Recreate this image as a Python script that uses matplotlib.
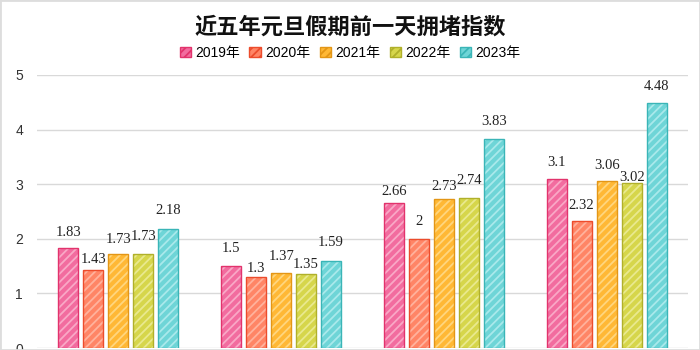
import matplotlib
matplotlib.use("Agg")
import matplotlib.pyplot as plt
from matplotlib.patches import Rectangle, Patch
import numpy as np

# Congestion index on the day before the New Year holiday, five years
years = ["2019年", "2020年", "2021年", "2022年", "2023年"]
groups = ["A", "B", "C", "D"]
v2019 = [1.83, 1.5, 2.66, 3.1]
v2020 = [1.43, 1.3, 2.0, 2.32]
v2021 = [1.73, 1.37, 2.73, 3.06]
v2022 = [1.73, 1.35, 2.74, 3.02]
v2023 = [2.18, 1.59, 3.83, 4.48]
series = [v2019, v2020, v2021, v2022, v2023]
value_labels = [
    ["1.83", "1.5", "2.66", "3.1"],
    ["1.43", "1.3", "2", "2.32"],
    ["1.73", "1.37", "2.73", "3.06"],
    ["1.73", "1.35", "2.74", "3.02"],
    ["2.18", "1.59", "3.83", "4.48"],
]
yticks = [0, 1, 2, 3, 4, 5]

# label lift above each bar top (pixels), staggered where neighbours collide
label_lift = [
    [16, 18, 11, 16],
    [10, 9, 17, 16],
    [14, 17, 12, 15],
    [17, 10, 18, 6],
    [18, 19, 17, 17],
]

fills = ["#f26c9f", "#ff8566", "#ffb835", "#d6d64b", "#6ed5d7"]
edges = ["#e2336c", "#ec4c2c", "#e39616", "#b0b02a", "#3ab5b7"]
hatch_cols = ["#f9a8c6", "#ffb29d", "#ffd67e", "#e9e98e", "#a9e9eb"]

plt.rcParams["hatch.linewidth"] = 1.3
sans = ["Liberation Sans", "Noto Sans CJK SC"]

fig = plt.figure(figsize=(7, 3.5), dpi=100)
ax = fig.add_axes([37 / 700, 1 - 348 / 350, 651 / 700, 273 / 350])

x = np.arange(len(groups))
width = 20 / 163
pitch = 25 / 163
offsets = (np.arange(len(series)) - 2) * pitch

for i, vals in enumerate(series):
    xpos = x + offsets[i]
    with plt.rc_context({"hatch.color": hatch_cols[i]}):
        ax.bar(xpos, vals, width=width, color=fills[i], hatch="////",
               edgecolor=hatch_cols[i], linewidth=0, zorder=2)
    ax.bar(xpos, vals, width=width, facecolor="none",
           edgecolor=edges[i], linewidth=1.0, zorder=3)
    for xx, v, lab, lift in zip(xpos, vals, value_labels[i], label_lift[i]):
        ax.annotate(lab, (xx, v), xytext=(0, lift * 0.72),
                    textcoords="offset points", ha="center", va="center",
                    fontsize=10.5, family="Liberation Serif",
                    color="#222222", zorder=4)

ax.set_xlim(-0.5, len(groups) - 0.5)
ax.set_ylim(0, 5)
ax.set_yticks(yticks)
ax.set_yticklabels([str(t) for t in yticks], family=sans, fontsize=10,
                   color="#333333")
ax.tick_params(axis="y", length=0, pad=10)
ax.set_xticks([])
ax.grid(axis="y", color="#d9d9d9", linewidth=1.0, zorder=0)
for s in ax.spines.values():
    s.set_visible(False)

fig.text(0.5, 1 - 27 / 350, "近五年元旦假期前一天拥堵指数", ha="center",
         va="center", fontsize=16, fontweight="bold",
         family=["Noto Sans CJK SC", "DejaVu Sans"], color="#111111")

handles = []
for i in range(len(series)):
    handles.append(Patch(facecolor=fills[i], edgecolor=edges[i],
                         hatch="////", linewidth=1.0))
leg = fig.legend(handles, years, loc="center", bbox_to_anchor=(0.5, 1 - 53 / 350),
                 ncol=5, frameon=False, handlelength=0.8, handleheight=0.8,
                 handletextpad=0.3, columnspacing=0.7,
                 prop={"family": sans, "size": 10})

fig.patches.append(Rectangle((0, 0), 1, 1, transform=fig.transFigure,
                             fill=False, edgecolor="#dddddd", linewidth=2))

fig.savefig("out.png", dpi=100)
